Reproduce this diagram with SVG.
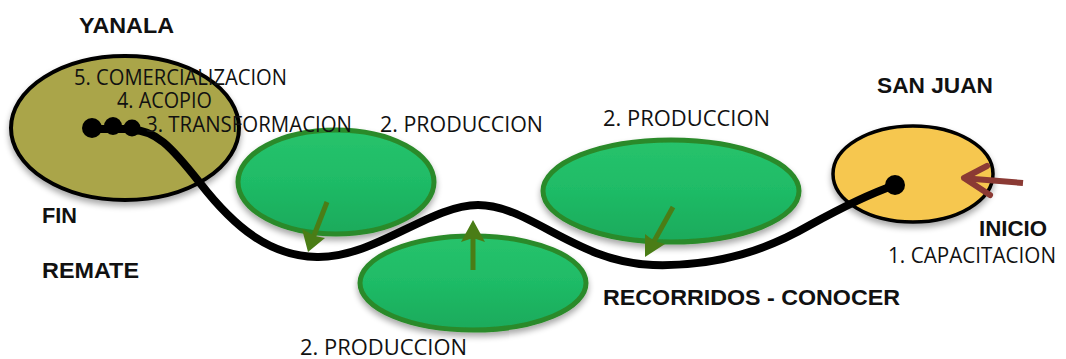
<svg xmlns="http://www.w3.org/2000/svg" width="1066" height="359" viewBox="0 0 1066 359">
<defs>
<filter id="sh" x="-20%" y="-20%" width="140%" height="150%">
<feGaussianBlur in="SourceAlpha" stdDeviation="3"/>
<feOffset dx="0" dy="4"/>
<feComponentTransfer><feFuncA type="linear" slope="0.35"/></feComponentTransfer>
<feMerge><feMergeNode/><feMergeNode in="SourceGraphic"/></feMerge>
</filter>
<linearGradient id="gg" x1="0" y1="0" x2="0" y2="1">
<stop offset="0" stop-color="#27c36c"/>
<stop offset="0.5" stop-color="#1fbb66"/>
<stop offset="1" stop-color="#1aaa5b"/>
</linearGradient>
</defs>
<style>
.green{fill:url(#gg);stroke:#2b8a29;stroke-width:5}
.lab{font-family:"Open Sans","Liberation Sans",sans-serif;font-size:22px;fill:#111}
.bold{font-family:"Liberation Sans",Arial,sans-serif;font-size:22px;font-weight:bold;fill:#111}
.gshaft{stroke:#4a7d16;stroke-width:5;fill:none}
.ghead{fill:#4a7d16}
</style>
<rect width="1066" height="359" fill="#fff"/>

<g id="yanala">
<ellipse cx="125" cy="128" rx="114" ry="72" fill="#aaa54a" stroke="#000" stroke-width="4" filter="url(#sh)"/>
<text class="bold" x="79" y="33" textLength="95" lengthAdjust="spacingAndGlyphs">YANALA</text>
</g>

<g id="prod1">
<ellipse class="green" cx="336" cy="182" rx="98" ry="52" filter="url(#sh)"/>
<text class="lab" x="380" y="132" textLength="163" lengthAdjust="spacingAndGlyphs">2. PRODUCCION</text>
</g>

<g id="prod2">
<ellipse class="green" cx="473" cy="283" rx="113" ry="47" filter="url(#sh)"/>
<text class="lab" x="300" y="355" textLength="167" lengthAdjust="spacingAndGlyphs">2. PRODUCCION</text>
</g>

<g id="prod3">
<ellipse class="green" cx="671" cy="191" rx="128" ry="51" filter="url(#sh)"/>
<text class="lab" x="603" y="126" textLength="167" lengthAdjust="spacingAndGlyphs">2. PRODUCCION</text>
</g>

<g id="sanjuan">
<ellipse cx="913" cy="174" rx="80" ry="48" fill="#f6c74f" stroke="#000" stroke-width="3.5" filter="url(#sh)"/>
<text class="bold" x="877" y="93" textLength="116" lengthAdjust="spacingAndGlyphs">SAN JUAN</text>
</g>

<g id="connectors">
<path d="M132,130 C155,130 170,145 200,183 C235,228 270,256 317,257 C375,258 430,205 478,205 C530,205 575,262 653,265 C720,267 770,248 810,225 C850,203 875,192 895,185" fill="none" stroke="#000" stroke-width="8" stroke-linecap="round"/>
<line x1="92" y1="129" x2="132" y2="129" stroke="#000" stroke-width="8"/>
<circle cx="92" cy="128" r="10" fill="#000"/>
<circle cx="113" cy="126" r="9" fill="#000"/>
<circle cx="132" cy="128" r="8.5" fill="#000"/>
<circle cx="895" cy="185" r="10" fill="#000"/>
<line class="gshaft" x1="327" y1="202" x2="313" y2="238"/>
<polygon class="ghead" points="308,252 302,229 315,236 325,238"/>
<line class="gshaft" x1="473" y1="270" x2="473" y2="236"/>
<polygon class="ghead" points="473,220 485,242 473,238 461,242"/>
<line class="gshaft" x1="673" y1="207" x2="652" y2="245"/>
<polygon class="ghead" points="645,257 645,234 654,241 665,244"/>
<line x1="1023" y1="183" x2="968" y2="178.5" stroke="#8b3a34" stroke-width="6"/>
<polyline points="987,166 964,178 990,195" fill="none" stroke="#8b3a34" stroke-width="6" stroke-linejoin="round" stroke-linecap="round"/>
</g>

<g id="labels">
<text class="lab" x="74" y="85" textLength="213" lengthAdjust="spacingAndGlyphs">5. COMERCIALIZACION</text>
<text class="lab" x="117" y="108" textLength="95" lengthAdjust="spacingAndGlyphs">4. ACOPIO</text>
<text class="lab" x="146" y="132" textLength="206" lengthAdjust="spacingAndGlyphs">3. TRANSFORMACION</text>
<text class="bold" x="42" y="223" textLength="35" lengthAdjust="spacingAndGlyphs">FIN</text>
<text class="bold" x="42" y="278" textLength="97" lengthAdjust="spacingAndGlyphs">REMATE</text>
<text class="bold" x="603" y="305" textLength="297" lengthAdjust="spacingAndGlyphs">RECORRIDOS - CONOCER</text>
<text class="bold" x="979" y="236" textLength="68" lengthAdjust="spacingAndGlyphs">INICIO</text>
<text class="lab" x="888" y="263" textLength="168" lengthAdjust="spacingAndGlyphs">1. CAPACITACION</text>
</g>
</svg>
